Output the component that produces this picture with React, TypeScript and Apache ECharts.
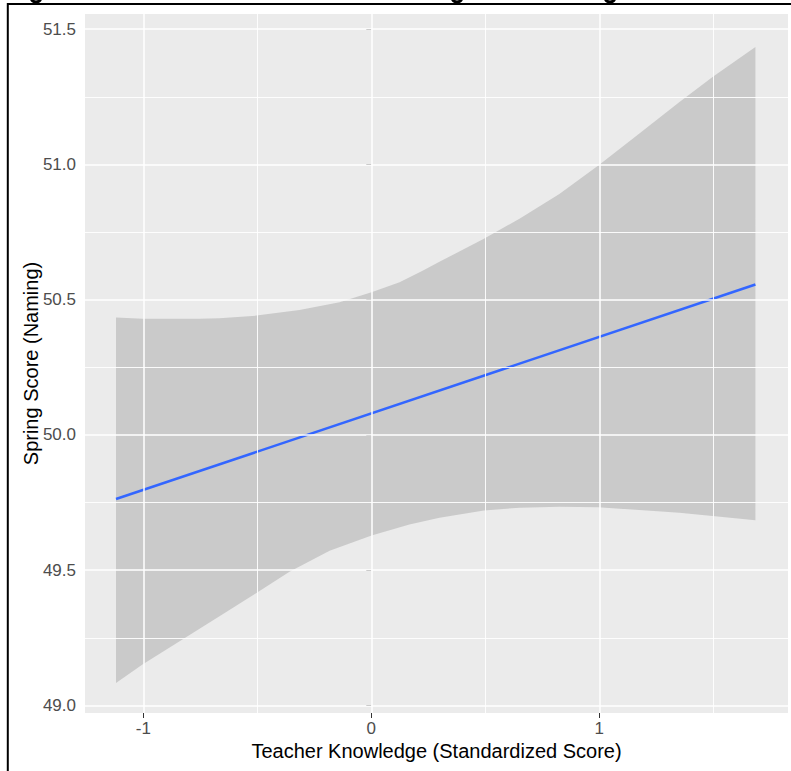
import React, { useEffect, useRef } from "react";
import * as echarts from "echarts";

// Ribbon (95% CI): upper and lower edges
const upperX = [-1.12, -1.004, -0.754, -0.666, -0.504, -0.315, -0.139, 0.001, 0.124, 0.225, 0.299, 0.494, 0.65, 0.825, 0.996, 1.176, 1.352, 1.497, 1.685];
const upperY = [50.434, 50.429, 50.429, 50.431, 50.441, 50.462, 50.49, 50.527, 50.564, 50.607, 50.64, 50.725, 50.799, 50.891, 50.996, 51.114, 51.231, 51.323, 51.434];
const lowerX = [-1.12, -1.004, -0.841, -0.666, -0.504, -0.359, -0.183, 0.001, 0.167, 0.299, 0.494, 0.65, 0.825, 0.996, 1.176, 1.352, 1.497, 1.685];
const lowerY = [49.083, 49.151, 49.237, 49.33, 49.416, 49.494, 49.572, 49.628, 49.669, 49.694, 49.721, 49.731, 49.734, 49.733, 49.722, 49.712, 49.7, 49.685];

// Fitted line endpoints
const lineX = [-1.12, 1.685];
const lineY = [49.763, 50.556];

// Ticks / grid
const xMajor = [-1, 0, 1];
const xMinor = [-0.5, 0.5, 1.5];
const yMajor = [49.0, 49.5, 50.0, 50.5, 51.0, 51.5];
const yMinor = [49.25, 49.75, 50.25, 50.75, 51.25];

const FONT = "'Liberation Sans', Arial, sans-serif";

export default function App() {
  const ref = useRef<HTMLDivElement>(null);
  useEffect(() => {
    if (!ref.current) return;
    const chart = echarts.init(ref.current, undefined, { renderer: "svg" });
    const gridLines: any[] = [];
    xMajor.forEach((v) => gridLines.push({ xAxis: v, lineStyle: { width: 1.5 } }));
    xMinor.forEach((v) => gridLines.push({ xAxis: v, lineStyle: { width: 0.9 } }));
    yMajor.forEach((v) => gridLines.push({ yAxis: v, lineStyle: { width: 1.5 } }));
    yMinor.forEach((v) => gridLines.push({ yAxis: v, lineStyle: { width: 0.9 } }));

    const ribbonData = upperX.map((x, i) => [x, upperY[i]]).concat(lowerX.map((x, i) => [x, lowerY[i]]));

    // cut-off title descenders above the top frame line
    const descenders = [36, 457, 610].map((cx) => ({
      type: "arc",
      shape: { cx, cy: -3, r: 5, startAngle: 0.2, endAngle: Math.PI - 0.2 },
      style: { stroke: "#000000", lineWidth: 3, fill: "none" },
      silent: true,
    }));

    chart.setOption({
      animation: false,
      backgroundColor: "#ffffff",
      grid: {
        left: 85,
        top: 14,
        width: 703,
        height: 699,
        show: true,
        backgroundColor: "#EBEBEB",
        borderWidth: 0,
        containLabel: false,
        outerBoundsMode: "none",
      },
      xAxis: {
        type: "value",
        min: -1.256,
        max: 1.828,
        name: "Teacher Knowledge (Standardized Score)",
        nameLocation: "middle",
        nameGap: 28,
        nameMoveOverlap: false,
        nameTextStyle: { fontSize: 20, color: "#000000", fontFamily: FONT },
        axisLine: { show: false },
        splitLine: { show: false },
        axisTick: {
          show: true,
          length: 5,
          customValues: xMajor,
          lineStyle: { color: "#333333", width: 1 },
        },
        axisLabel: {
          customValues: xMajor,
          margin: 7,
          fontSize: 17,
          color: "#4D4D4D",
          fontFamily: FONT,
          formatter: (v: number) => String(v),
        },
      },
      yAxis: {
        type: "value",
        min: 48.972,
        max: 51.556,
        name: "Spring Score (Naming)",
        nameLocation: "middle",
        nameGap: 44,
        nameMoveOverlap: false,
        nameTextStyle: { fontSize: 20, color: "#000000", fontFamily: FONT },
        axisLine: { show: false },
        splitLine: { show: false },
        axisTick: {
          show: true,
          length: 5,
          customValues: yMajor,
          lineStyle: { color: "#333333", width: 1 },
        },
        axisLabel: {
          customValues: yMajor,
          margin: 9,
          fontSize: 17,
          color: "#4D4D4D",
          fontFamily: FONT,
          formatter: (v: number) => v.toFixed(1),
        },
      },
      series: [
        {
          type: "line",
          name: "grid",
          data: [],
          z: 1,
          silent: true,
          markLine: {
            silent: true,
            symbol: ["none", "none"],
            label: { show: false },
            lineStyle: { color: "#FFFFFF", type: "solid" },
            emphasis: { disabled: true },
            data: gridLines,
          },
        },
        {
          type: "custom",
          name: "ci",
          z: 2,
          silent: true,
          data: ribbonData,
          encode: { x: 0, y: 1 },
          renderItem: (params: any, api: any) => {
            if (params.dataIndex !== 0) return null;
            const pts: number[][] = [];
            for (let i = 0; i < upperX.length; i++) pts.push(api.coord([upperX[i], upperY[i]]));
            for (let i = lowerX.length - 1; i >= 0; i--) pts.push(api.coord([lowerX[i], lowerY[i]]));
            return {
              type: "polygon",
              shape: { points: pts },
              style: { fill: "rgba(153,153,153,0.4)" },
            };
          },
        },
        {
          type: "line",
          name: "fit",
          z: 3,
          silent: true,
          symbol: "none",
          data: lineX.map((x, i) => [x, lineY[i]]),
          lineStyle: { color: "#3366FF", width: 2.5 },
        },
      ],
      graphic: [
        {
          type: "line",
          shape: { x1: 7, y1: 4, x2: 791, y2: 4 },
          style: { stroke: "#000000", lineWidth: 2 },
          silent: true,
        },
        {
          type: "line",
          shape: { x1: 7.8, y1: 3, x2: 7.8, y2: 771 },
          style: { stroke: "#000000", lineWidth: 2 },
          silent: true,
        },
        ...descenders,
      ],
    });
    return () => chart.dispose();
  }, []);
  return (
    <div
      ref={ref}
      style={{ position: "fixed", left: 0, top: 0, width: 791, height: 771, background: "#fff" }}
    />
  );
}
